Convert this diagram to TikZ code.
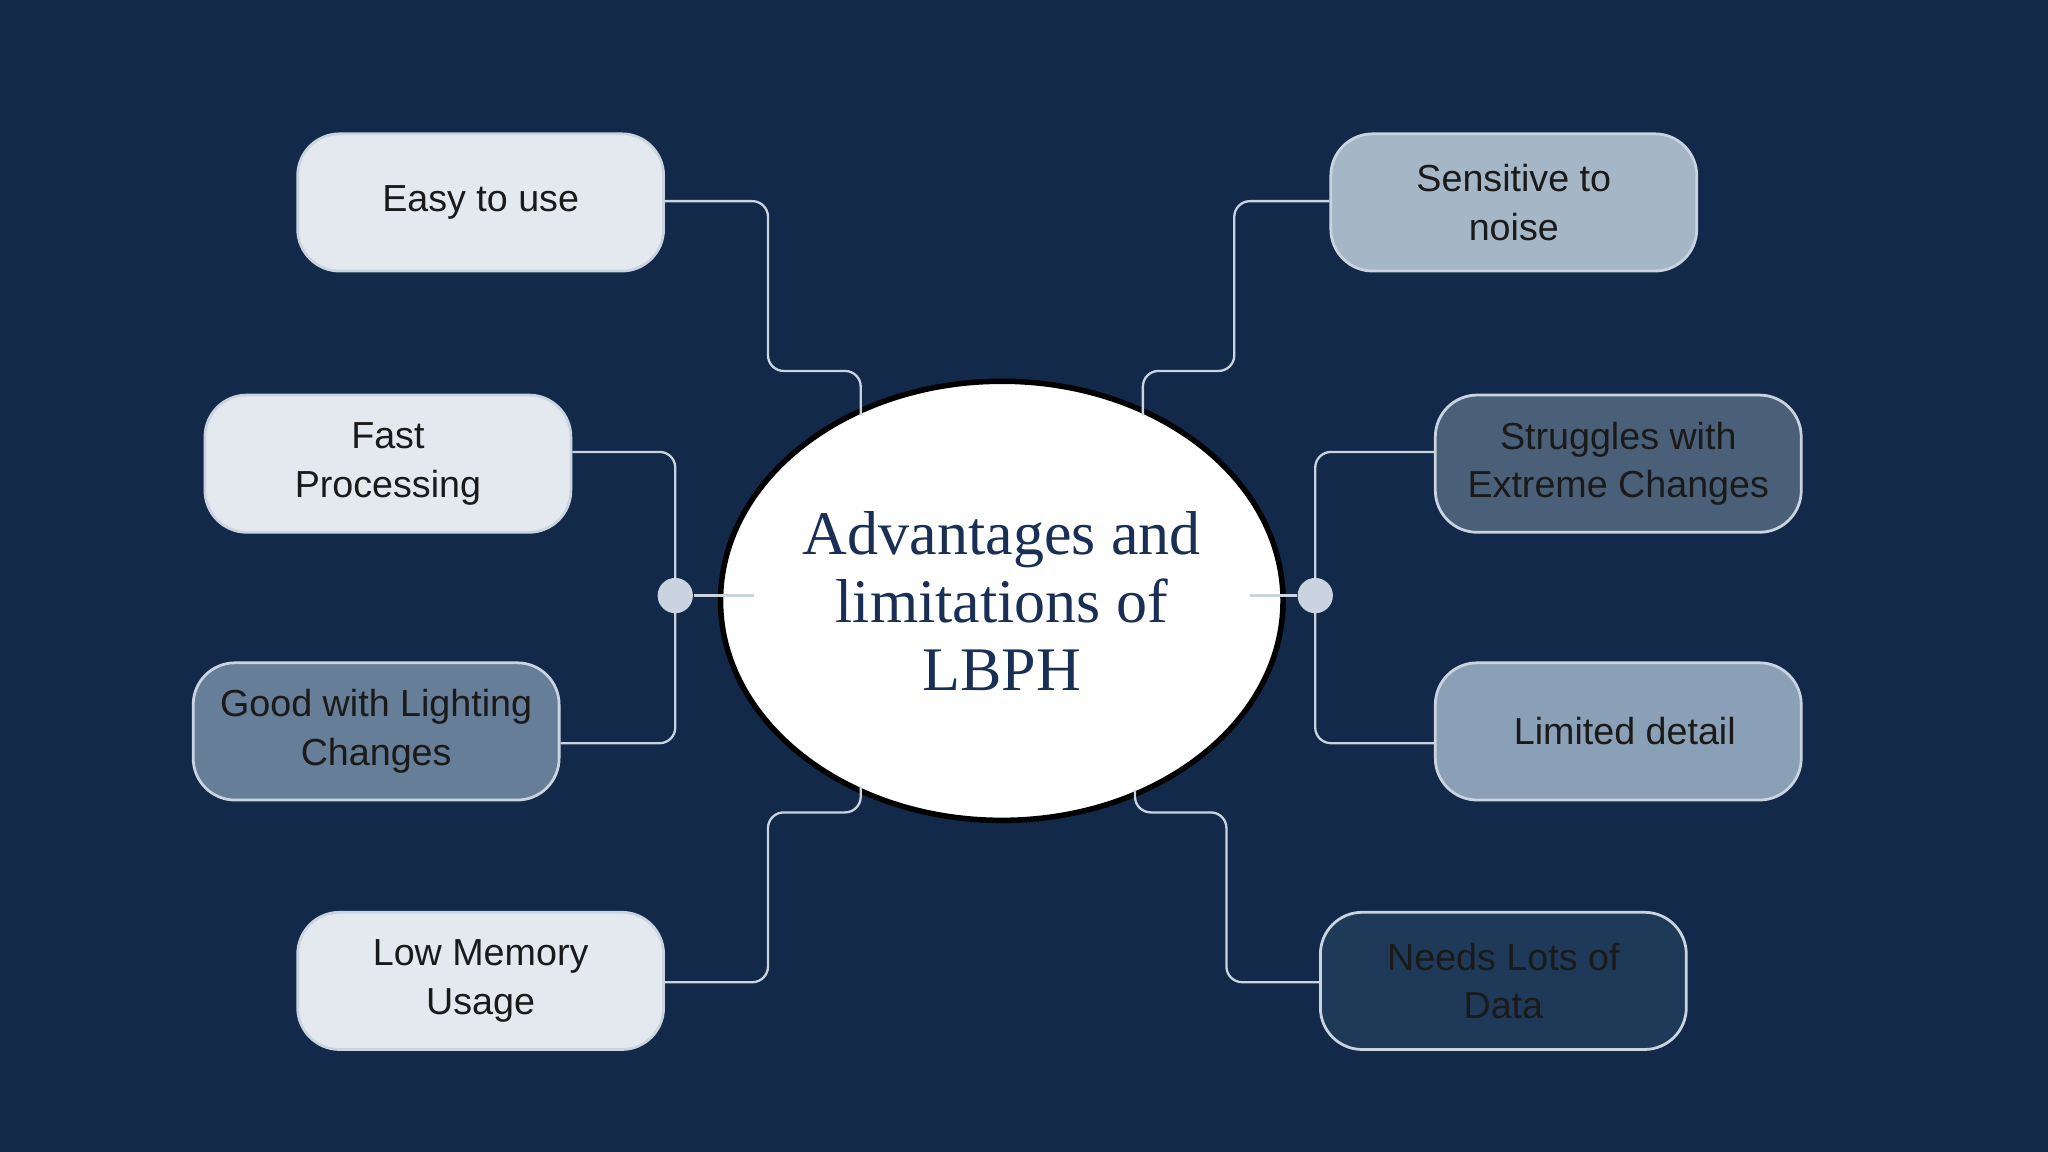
\documentclass[tikz,border=0pt]{standalone}
\usepackage{fontspec}
\usetikzlibrary{shapes.geometric}
\setmainfont{Liberation Sans}
\newfontfamily\seriffont{Liberation Serif}
\begin{document}
\begin{tikzpicture}[x=0.01cm,y=-0.01cm,
  box/.style={draw=edgec,line width=0.6pt,rounded corners=0.32cm,minimum width=2.8cm,minimum height=1.05cm,align=center,font=\fontsize{8.2pt}{10.6pt}\selectfont,inner sep=0pt},
  conn/.style={draw=linec,line width=0.5pt,rounded corners=0.12cm}]
\definecolor{bg}{HTML}{12294A}
\definecolor{edgec}{HTML}{C9D4E0}
\definecolor{linec}{HTML}{C9D4E0}
\definecolor{lightc}{HTML}{E4E9EF}
\definecolor{c1}{HTML}{A5B6C7}
\definecolor{c2}{HTML}{4A6079}
\definecolor{c3}{HTML}{667E97}
\definecolor{c4}{HTML}{8AA0B6}
\definecolor{c5}{HTML}{1F3A59}
\definecolor{txt}{HTML}{1A1A1A}
\definecolor{navy}{HTML}{1A2F55}
\fill[bg] (0,0) rectangle (1568,882);
\useasboundingbox (0,0) rectangle (1568,882);
% center
\node[ellipse,draw=black,line width=1.2pt,fill=white,minimum width=3.74cm,minimum height=3.36cm,inner sep=0pt,align=center,font=\seriffont\fontsize{13.5pt}{14.8pt}\selectfont,text=navy] (c) at (767,460) {Advantages and\\limitations of\\LBPH};
% boxes
\node[box,fill=lightc,text=txt] (e) at (368,155) {Easy to use};
\node[box,fill=lightc,text=txt] (f) at (297,355) {Fast\\Processing};
\node[box,fill=c3,text=txt] (g) at (288,560) {Good with Lighting\\Changes};
\node[box,fill=lightc,text=txt] (l) at (368,751) {Low Memory\\Usage};
\node[box,fill=c1,text=txt] (s) at (1159,155) {Sensitive to\\noise};
\node[box,fill=c2,text=txt] (x) at (1239,355) {Struggles with\\Extreme Changes};
\node[box,fill=c4,text=txt] (d) at (1239,560) {\hspace{0.1cm}Limited detail};
\node[box,fill=c5,text=txt] (n) at (1151,751) {Needs Lots of\\Data};
% dots
\node[circle,fill=edgec,minimum size=0.27cm,inner sep=0pt] (dl) at (517,456) {};
\node[circle,fill=edgec,minimum size=0.27cm,inner sep=0pt] (dr) at (1007,456) {};
% connectors
\draw[conn] (e.east |- 0,154) -- (588,154) -- (588,284) -- (659,284) -- (659,318);
\draw[conn] (l.east |- 0,752) -- (588,752) -- (588,622) -- (659,622) -- (659,602);
\draw[conn] (f.east |- 0,346) -- (517,346) -- (517,569) -- (g.east |- 0,569);
\draw[conn] (dl) -- (577,456);
\draw[conn] (s.west |- 0,154) -- (945,154) -- (945,284) -- (875,284) -- (875,318);
\draw[conn] (n.west |- 0,752) -- (939,752) -- (939,622) -- (869,622) -- (869,605);
\draw[conn] (x.west |- 0,346) -- (1007,346) -- (1007,569) -- (d.west |- 0,569);
\draw[conn] (dr) -- (957,456);
\end{tikzpicture}
\end{document}
